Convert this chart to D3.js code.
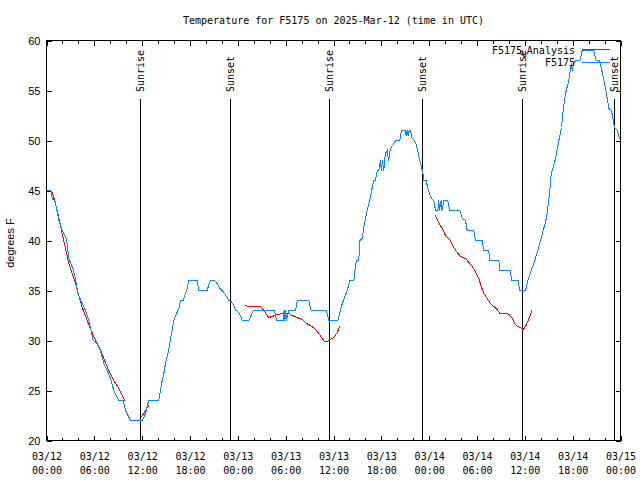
<!DOCTYPE html>
<html><head><meta charset="utf-8">
<script src="https://cdn.jsdelivr.net/npm/d3@7"></script>
<style>body{margin:0;background:#fff}</style>
</head><body><svg id="c" width="640" height="480"></svg>
<script>
// ---------- data ----------
const titleText = "Temperature for F5175 on 2025-Mar-12 (time in UTC)";
const yLabel = "degrees F";
const yTickValues = [20, 25, 30, 35, 40, 45, 50, 55, 60];
const startDate = Date.UTC(2025, 2, 12, 0, 0);
const endDate = Date.UTC(2025, 2, 15, 0, 0);
const seriesNames = ["F5175", "F5175"];
const seriesColors = ["#ff0000", "#0a88ff"];

// observations: [hours since 03/12 00:00 UTC, degrees F]
const obsSeries = [
[0.05,45],[0.55,45],[0.75,44.1],[1.05,44],[1.25,43.2],[1.55,42],[1.97,41],[2.5,40.2],[2.8,38.2],[3.3,37.2],
[3.64,36.2],[3.93,34.7],[4.48,33.7],[4.89,33],[5.31,32],[5.86,30],[6.23,29.8],[6.77,29],[7.19,27.7],[7.61,27],
[8.12,26],[8.44,25],[9.07,24],[9.62,24],[9.91,23],[10.54,22],[12.0,22],[12.42,22.7],[12.83,24],[14.09,24],
[14.3,25],[14.51,26],[14.72,26.7],[14.93,27.7],[15.22,28.7],[15.47,29.7],[15.68,30.7],[15.97,32],[16.31,32.7],[16.6,33.2],
[16.81,34],[17.15,34],[17.44,34.7],[17.65,35.2],[17.85,36],[18.9,36],[19.1,35],[20.16,35],[20.36,35.6],[20.57,36],
[21.07,36],[21.4,35.7],[21.74,35.2],[22.03,35],[22.33,34.7],[22.66,34.3],[22.87,34],[23.17,33.9],[23.5,33.5],[23.71,33],
[24.0,32.9],[24.33,32.5],[24.54,32],[25.38,32],[25.93,33],[28.6,33],[28.85,32],[29.7,32],[29.8,33],[29.9,32],
[30.0,33],[30.1,32],[30.4,33],[31.24,33],[31.45,34],[32.9,34],[33.2,33],[35.12,33],[35.42,32],[36.55,32],
[36.8,32.8],[37.1,33.7],[37.38,34.3],[37.72,35],[38.05,36],[38.55,36],[38.76,37.5],[38.89,38],[39.17,38],[39.3,40],
[39.6,40.2],[39.8,41.3],[40.14,42.7],[40.43,43.7],[40.64,44.3],[40.85,45.3],[41.06,46],[41.27,46],[41.4,46.8],[41.69,47.1],
[41.9,48],[42.0,47],[42.15,48],[42.3,47],[42.5,48.7],[42.74,49],[42.9,48],[43.15,49.2],[43.56,49.7],[43.78,50],
[44.32,50],[44.53,51],[45.0,51],[45.1,50.5],[45.25,51],[45.35,50.5],[45.5,51],[45.66,51],[45.87,50.2],[46.16,50],
[46.41,49.5],[46.57,49],[46.75,48.3],[46.91,47.8],[47.04,47.3],[47.2,46.8],[47.33,46],[47.63,46],[47.83,45.2],[48.04,44.7],
[48.38,44.1],[48.58,44],[48.8,43],[49.09,43],[49.2,44],[49.3,43],[49.5,44],[49.6,43],[49.83,44],[50.33,44],
[50.58,43],[51.85,43],[52.15,42.2],[52.56,42],[52.77,41],[53.6,41],[53.8,40],[54.65,40],[54.85,39],[55.48,39],
[55.6,38],[56.74,38],[56.86,37],[58.2,37],[58.33,36],[59.17,36],[59.34,35],[60.09,35],[60.38,36],[60.8,37],
[61.13,37.7],[61.63,39],[61.97,40],[62.3,41],[62.59,41.8],[62.81,42.8],[63.1,44.7],[63.31,46.7],[63.56,47.3],[63.85,48.2],
[64.26,50],[64.6,51.3],[64.81,53],[65.1,54.7],[65.52,56],[65.82,57.7],[65.95,57],[66.14,57.7],[66.36,58],[66.9,58],
[67.2,59],[68.65,59],[68.95,58],[69.37,58],[69.58,57.3],[69.91,56],[70.25,54.7],[70.53,53.2],[70.87,53],[71.25,51.3],
[71.59,51],[71.88,50.2]
];

// analysis: [hours, degrees F]; null marks a gap
const anaSeries = [
[0.72,44.8],[1.13,43.7],[1.54,42.3],[1.97,40.7],[2.38,39.2],[2.8,37.7],[3.22,36.7],[3.64,35.7],[4.05,34.5],[4.48,33.3],
[5.11,32],[5.61,31],[6.15,30],[6.69,29.2],[7.19,28.2],[7.81,27],[8.44,26],[9.07,25.2],[9.5,24.5],[9.82,24],
[10.8,null],
[11.79,22.3],[12.21,22.7],[12.83,23.5],
[18.0,null],
[24.84,33.5],[25.38,33.4],[26.85,33.4],[27.26,33],[27.6,32.6],[27.89,32.3],[28.31,32.4],[28.94,32.6],[29.57,32.7],[30.4,32.7],
[30.82,32.5],[31.45,32.3],[32.08,32.1],[32.62,31.7],[33.12,31.5],[33.75,31.1],[34.16,30.7],[34.58,30.2],[34.87,29.9],[35.2,29.9],
[35.62,30.1],[36.04,30.3],[36.46,30.8],[36.79,31.4],
[42.0,null],
[48.79,42.5],[49.21,41.8],[49.63,41.2],[50.05,40.5],[50.59,40.1],[51.09,39.3],[51.52,38.8],[51.94,38.4],[52.56,38.2],[52.98,37.8],
[53.4,37.4],[53.81,36.9],[54.23,36.2],[54.53,35.4],[54.86,34.7],[55.28,34.2],[55.7,33.7],[56.11,33.4],[56.53,33.1],[56.86,32.7],
[57.36,32.7],[57.86,32.7],[58.12,32.5],[58.42,32.2],[58.75,31.7],[59.05,31.4],[59.46,31.3],[59.8,31.1],[60.09,31.4],[60.38,31.9],
[60.71,32.6],[60.92,33.1]
];

const sunHours = [11.73, 23.08, 35.53, 47.2, 59.67, 71.29];
const sunLabels = ["Sunrise", "Sunset", "Sunrise", "Sunset", "Sunrise", "Sunset"];
const sunLineTop = 54.2; // degrees F level where the marker line stops

// ---------- drawing ----------
const L = 46, R = 620, T = 40, B = 440;
const MONO = "'DejaVu Sans Mono', 'Liberation Mono', monospace";
const SANS = "'Liberation Sans', Arial, sans-serif";
const toDate = h => new Date(startDate + h * 3600e3);

const svg = d3.select("#c");
svg.append("rect").attr("width", 640).attr("height", 480).attr("fill", "#fff");

const x = d3.scaleUtc().domain([new Date(startDate), new Date(endDate)]).range([L, R]);
const y = d3.scaleLinear().domain([20, 60]).range([B, T]);

const g = svg.append("g").attr("transform", "translate(0.5,0.5)");

// title
svg.append("text").attr("x", (L + R) / 2 + 0.5).attr("y", 24)
  .attr("text-anchor", "middle").attr("font-family", MONO).attr("font-size", 10)
  .attr("fill", "#000").text(titleText);

// axes (ticks inward, mirrored)
function styleAxis(sel) {
  sel.select(".domain").remove();
  sel.selectAll("line").attr("stroke", "#000").attr("shape-rendering", "crispEdges");
}
const hour2 = d3.utcHour.every(2), hour6 = d3.utcHour.every(6);

g.append("g").attr("transform", `translate(0,${B})`)
  .call(d3.axisBottom(x).ticks(hour2).tickSize(-3).tickFormat(""))
  .call(styleAxis);
g.append("g").attr("transform", `translate(0,${T})`)
  .call(d3.axisTop(x).ticks(hour2).tickSize(-3).tickFormat(""))
  .call(styleAxis);
g.append("g").attr("transform", `translate(0,${T})`)
  .call(d3.axisTop(x).ticks(hour6).tickSize(-5).tickFormat(""))
  .call(styleAxis);

const fmtD = d3.utcFormat("%m/%d"), fmtT = d3.utcFormat("%H:%M");
const xb = g.append("g").attr("transform", `translate(0,${B})`)
  .call(d3.axisBottom(x).ticks(hour6).tickSize(-5).tickPadding(0))
  .call(styleAxis);
xb.attr("font-family", MONO).attr("font-size", 10);
xb.selectAll(".tick text").each(function (d) {
  const t = d3.select(this);
  t.text(null).attr("dy", null).attr("y", null).attr("fill", "#000");
  t.append("tspan").attr("x", 0).attr("y", 19).text(fmtD(d));
  t.append("tspan").attr("x", 0).attr("y", 33).text(fmtT(d));
});

const yl = g.append("g").attr("transform", `translate(${L},0)`)
  .call(d3.axisLeft(y).tickValues(yTickValues).tickSize(-5).tickPadding(6))
  .call(styleAxis);
yl.attr("font-family", SANS).attr("font-size", 11);
yl.selectAll(".tick text").attr("fill", "#000").attr("dy", "0.36em");
g.append("g").attr("transform", `translate(${R},0)`)
  .call(d3.axisRight(y).tickValues(yTickValues).tickSize(-5).tickFormat(""))
  .call(styleAxis);

// y axis title
svg.append("text").attr("transform", `translate(14,243) rotate(-90)`)
  .attr("text-anchor", "middle").attr("font-family", SANS).attr("font-size", 11)
  .attr("fill", "#000").text(yLabel);

// sunrise / sunset markers
sunHours.forEach((h, i) => {
  const xx = x(toDate(h));
  g.append("line").attr("x1", xx).attr("x2", xx).attr("y1", y(20)).attr("y2", y(sunLineTop))
    .attr("stroke", "#000").attr("shape-rendering", "crispEdges");
  svg.append("text").attr("transform", `translate(${xx + 0.5},92) rotate(-90)`)
    .attr("dy", "0.36em").attr("font-family", MONO).attr("font-size", 10)
    .attr("fill", "#000").text(sunLabels[i]);
});

// legend + lines
const line = d3.line()
  .defined(d => d[1] != null)
  .x(d => x(toDate(d[0])))
  .y(d => y(d[1]));

const legX1 = 581, legX2 = 609;
// analysis (red)
const lg1 = svg.append("text").attr("x", 575).attr("y", 54).attr("text-anchor", "end")
  .attr("font-family", MONO).attr("font-size", 10).attr("fill", "#000");
lg1.append("tspan").text(seriesNames[0]);
lg1.append("tspan").attr("font-size", 8).attr("dy", 3).text("u");
lg1.append("tspan").attr("dy", -3).text("Analysis");
g.append("line").attr("x1", legX1).attr("x2", legX2).attr("y1", 49).attr("y2", 49)
  .attr("stroke", seriesColors[0]).attr("shape-rendering", "crispEdges");
g.append("path").datum(anaSeries).attr("d", line).attr("fill", "none")
  .attr("stroke", seriesColors[0]).attr("stroke-width", 1).attr("shape-rendering", "crispEdges");

// observations (blue)
svg.append("text").attr("x", 575).attr("y", 66).attr("text-anchor", "end")
  .attr("font-family", MONO).attr("font-size", 10).attr("fill", "#000").text(seriesNames[1]);
g.append("line").attr("x1", legX1).attr("x2", legX2).attr("y1", 62).attr("y2", 62)
  .attr("stroke", seriesColors[1]).attr("shape-rendering", "crispEdges");
g.append("path").datum(obsSeries).attr("d", line).attr("fill", "none")
  .attr("stroke", seriesColors[1]).attr("stroke-width", 1).attr("shape-rendering", "crispEdges");

// frame
g.append("rect").attr("x", L).attr("y", T).attr("width", R - L).attr("height", B - T)
  .attr("fill", "none").attr("stroke", "#000").attr("shape-rendering", "crispEdges");
</script>
</body></html>
